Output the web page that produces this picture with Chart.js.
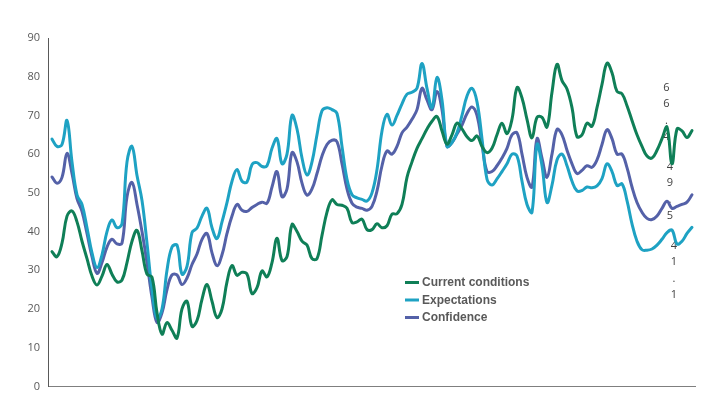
<!DOCTYPE html>
<html>
<head>
<meta charset="utf-8">
<script src="https://cdn.jsdelivr.net/npm/chart.js@4/dist/chart.umd.min.js"></script>
<style>
  html, body { margin: 0; padding: 0; background: #fff; }
  #wrap { width: 704px; height: 401px; }
</style>
</head>
<body>
<div id="wrap"><canvas id="chart" width="704" height="401"></canvas></div>
<script>
// ==== Data ====
const seriesNames = ['Current conditions', 'Expectations', 'Confidence'];
const seriesColors = ['#0f7f57', '#1ea2c3', '#5461a8'];

const currentConditions = [
  34.8, 33.5, 37, 44, 45.3, 42.5, 37.5, 33, 28.5, 26.2,
  28.5, 31.5, 29, 27, 27.5, 32, 37.5, 40.3, 35, 29,
  28.2, 19, 13.5, 16.5, 14.5, 12.5, 20, 22, 15.5, 17,
  22.5, 26.3, 22, 17.8, 20, 27, 31.2, 28.7, 29.5, 29,
  24, 25.5, 29.8, 28.3, 32, 38.3, 32.5, 33.5, 41.8, 40,
  37.5, 36.5, 33, 33, 39, 45, 48.2, 47, 46.8, 46,
  42.3, 42.5, 43.2, 40.5, 40.5, 42, 41, 41.5, 44.5, 44.6,
  47, 54, 58, 61.5, 64, 66.5, 68.5, 69.7, 66, 62.6,
  65, 68, 66.5, 64.5, 63.5, 64.7, 62, 60.4, 61.5, 65,
  68, 65.3, 69, 77.2, 74.5, 69, 64.2, 69.5, 69.5, 67,
  76, 83.2, 79, 76.8, 72, 64.5, 65, 68, 67.2, 72,
  78, 83.5, 81, 76.2, 75.6, 72.5, 68.7, 65, 62, 59.5,
  59, 61, 64, 67, 57.5, 66.5, 66, 64.3, 66.1
];

const expectations = [
  63.9, 62, 62.5, 68.7, 58, 49.5, 47, 41, 34.5, 30.7,
  34, 40, 43, 41, 42, 58, 62, 54.5, 48, 37,
  25, 17.5, 20, 30, 36, 36.5, 29, 31, 39.7, 40.9,
  44, 46, 41, 38.2, 42.5, 47.5, 53, 56, 53, 52.8,
  57.3, 57.8, 56.8, 57, 61.5, 64, 57.5, 60, 70, 66.5,
  59, 54.6, 58, 65, 71.2, 72, 71.5, 70.5, 62, 53.5,
  49.5, 48.7, 48.3, 47.9, 50, 56, 66, 70.3, 67.5, 70,
  73, 75.5, 76, 77, 83.4, 77, 72, 79.8, 74, 62,
  63, 65.5, 70, 75, 77, 73.5, 64, 53.5, 52, 53.6,
  55.5, 57.5, 60, 59.5, 53, 47, 45, 62.5, 57, 47.5,
  52, 58.5, 60, 57, 53, 50.5, 50.6, 51.5, 51.3, 51.8,
  53.7, 57.5, 55.5, 51.9, 52.3, 48, 42, 37.5, 35.3, 35.2,
  35.5, 36.5, 38, 39.7, 40.4, 36.8, 37.5, 39.5, 41.1
];

const confidence = [
  54.1, 52.5, 54, 60.2, 55, 48.5, 45.2, 39.5, 33.5, 29.2,
  32, 36, 38, 36.8, 37, 49, 52.7, 47, 40, 32,
  23, 16.5, 19, 25, 28.8, 28.8, 26.3, 28, 31.5, 34.2,
  38, 39.5, 34.5, 31.2, 34, 39.5, 44, 47, 45.5, 45.2,
  46.2, 47, 47.6, 47.3, 51.5, 55.5, 49, 51, 60.4, 58,
  52.5, 49.4, 51, 55, 59.5, 62.5, 63.6, 63.2, 57.5, 51,
  47.3, 46.3, 46, 45.5, 46.5, 50.5, 57, 60.8, 60, 62,
  65.5, 67, 69, 71.5, 77, 74, 71.5, 76.2, 71.5, 62,
  63, 65.2, 67.5, 70.5, 72.2, 70, 62.5, 55.5, 55.5, 57,
  59, 61.5, 65, 65.5, 60, 54, 51.5, 64, 59, 54,
  60, 66.4, 65, 61, 57.5, 55, 55.8, 57, 56.6, 58.5,
  62.5, 66.3, 64, 60, 60, 56.5, 51.5, 47.5, 45, 43.4,
  43.1, 44, 46, 47.8, 46, 46.5, 47, 47.6, 49.5
];

const periods = currentConditions.map((v, i) => i);
const yTicks = [0, 10, 20, 30, 40, 50, 60, 70, 80, 90];

// vertical end labels, one per series
const endLabels = ['66.4', '49.5', '41.1'];
const endLabelAt = [[122.9, 77.1], [123.6, 56.7], [124.4, 36.3]];

// ==== Plugins ====
const endLabelPlugin = {
  id: 'endLabels',
  beforeDatasetsDraw(chart) {
    const { ctx, scales: { x, y } } = chart;
    ctx.save();
    ctx.font = '11px "Open Sans", "Liberation Sans", sans-serif';
    ctx.fillStyle = '#404040';
    ctx.textAlign = 'center';
    ctx.textBaseline = 'middle';
    endLabels.forEach((txt, s) => {
      const px = x.getPixelForValue(endLabelAt[s][0]);
      const py = y.getPixelForValue(endLabelAt[s][1]);
      txt.split('').forEach((ch, k) => ctx.fillText(ch, px, py + k * 16.3));
    });
    ctx.restore();
  }
};

const insideLegend = {
  id: 'insideLegend',
  afterDraw(chart) {
    const { ctx } = chart;
    const left = 405, top = 282.5, rowH = 17.5;
    ctx.save();
    ctx.font = 'bold 12px "Liberation Sans", "Open Sans", sans-serif';
    ctx.textBaseline = 'middle';
    chart.data.datasets.forEach((ds, i) => {
      const yy = top + i * rowH;
      ctx.strokeStyle = ds.borderColor;
      ctx.lineWidth = 3;
      ctx.beginPath();
      ctx.moveTo(left, yy);
      ctx.lineTo(left + 14, yy);
      ctx.stroke();
      ctx.fillStyle = '#595959';
      ctx.fillText(ds.label, left + 17, yy + 0.5);
    });
    ctx.restore();
  }
};

// ==== Chart ====
const seriesData = [currentConditions, expectations, confidence];

new Chart(document.getElementById('chart').getContext('2d'), {
  type: 'line',
  data: {
    datasets: seriesData.map((vals, s) => ({
      label: seriesNames[s],
      data: vals.map((v, i) => ({ x: periods[i], y: v })),
      borderColor: seriesColors[s],
      backgroundColor: seriesColors[s],
      borderWidth: 3,
      pointRadius: 0,
      tension: 0.4,
      borderCapStyle: 'round',
      borderJoinStyle: 'round',
      fill: false
    }))
  },
  options: {
    responsive: false,
    animation: false,
    layout: { padding: { left: 8, right: 9, top: 38, bottom: 7 } },
    plugins: {
      legend: { display: false },
      tooltip: { enabled: false }
    },
    scales: {
      x: {
        type: 'linear',
        min: -0.8,
        max: 128.6,
        ticks: { display: false },
        grid: { display: false, drawTicks: false },
        border: { display: true, color: '#7f7f7f', width: 1 },
        afterFit(scale) { scale.height = 0; }
      },
      y: {
        min: 0,
        max: 90,
        afterBuildTicks(scale) { scale.ticks = yTicks.map(v => ({ value: v })); },
        ticks: {
          color: '#595959',
          font: { size: 11, family: '"Open Sans", "Liberation Sans", sans-serif' },
          padding: 8
        },
        grid: { display: false, drawTicks: false },
        border: { display: true, color: '#595959', width: 1 },
        afterFit(scale) { scale.width = 40; }
      }
    }
  },
  plugins: [endLabelPlugin, insideLegend]
});
</script>
</body>
</html>
